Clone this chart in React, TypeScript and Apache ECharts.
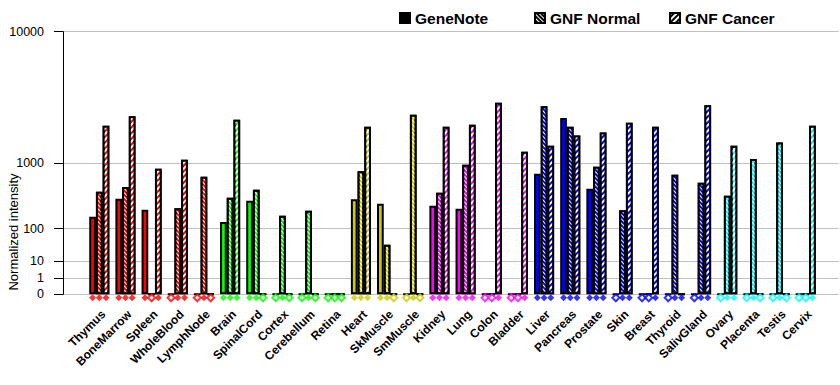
import React, { useEffect, useRef } from "react";
import * as echarts from "echarts";

const categories = [
  "Thymus", "BoneMarrow", "Spleen", "WholeBlood", "LymphNode",
  "Brain", "SpinalCord", "Cortex", "Cerebellum", "Retina",
  "Heart", "SkMuscle", "SmMuscle",
  "Kidney", "Lung", "Colon", "Bladder",
  "Liver", "Pancreas", "Prostate", "Skin", "Breast", "Thyroid", "SalivGland",
  "Ovary", "Placenta", "Testis", "Cervix",
];

const RED = "#ff0000";
const GREEN = "#00ff00";
const OLIVE = "#cccc00";
const MAGENTA = "#ff00ff";
const BLUE = "#0000ff";
const CYAN = "#00ffff";

const tissueColors = [
  RED, RED, RED, RED, RED,
  GREEN, GREEN, GREEN, GREEN, GREEN,
  OLIVE, OLIVE, OLIVE,
  MAGENTA, MAGENTA, MAGENTA, MAGENTA,
  BLUE, BLUE, BLUE, BLUE, BLUE, BLUE, BLUE,
  CYAN, CYAN, CYAN, CYAN,
];

const geneNote = [
  174, 348, 232, 0, 0,
  138, 325, 0, 0, 0,
  341, 292, 0,
  271, 242, 0, 0,
  754, 2661, 485, 0, 0, 0, 0,
  0, 0, 0, 0,
];
const gnfNormal = [
  441, 512, 0, 245, 693,
  360, 470, 182, 223, 0,
  805, 39, 2831,
  427, 957, 0, 0,
  3296, 2251, 910, 227, 0, 733, 583,
  386, 1105, 1616, 0,
];
const gnfCancer = [
  2296, 2750, 863, 1086, 0,
  2576, 0, 0, 0, 0,
  2251, 0, 0,
  2251, 2339, 3508, 1315,
  1510, 1876, 1997, 2432, 2251, 0, 3355,
  1510, 0, 0, 2296,
];

// presence calls (1 = filled diamond, 0 = hollow diamond)
const geneNoteCall = [1, 1, 1, 0, 0, 1, 1, 0, 0, 0, 1, 1, 0, 1, 1, 0, 0, 1, 1, 1, 0, 0, 0, 0, 0, 0, 0, 0];
const gnfNormalCall = [1, 1, 0, 1, 1, 1, 1, 1, 1, 0, 1, 1, 1, 1, 1, 0, 0, 1, 1, 1, 1, 0, 1, 1, 1, 1, 1, 0];
const gnfCancerCall = [1, 1, 1, 1, 0, 1, 0, 0, 0, 0, 1, 0, 0, 1, 1, 1, 1, 1, 1, 1, 1, 1, 1, 1, 1, 0, 0, 1];

const legendNames = ["GeneNote", "GNF Normal", "GNF Cancer"];
const yTickLabels = [0, 1, 10, 100, 1000, 10000];

// axis transform: every decade doubles the height
const tf = (v: number) => (v <= 0 ? 0 : Math.pow(v, Math.log10(2)));
const inv = (t: number) => (t <= 0 ? 0 : Math.round(Math.pow(10, Math.log2(t))));

const FONT = "'Liberation Sans', Arial, sans-serif";

export default function App() {
  const ref = useRef<HTMLDivElement>(null);
  useEffect(() => {
    document.body.style.margin = "0";
    if (!ref.current) return;
    const chart = echarts.init(ref.current, undefined, { renderer: "svg" });

    const tickVals = yTickLabels.map(tf);
    const yMax = tf(10000);

    const normalDecal = {
      symbol: "rect",
      symbolSize: 1,
      color: "#ffffff",
      dashArrayX: [1, 0],
      dashArrayY: [1, 2],
      rotation: Math.PI / 4,
    };
    const cancerDecal = {
      symbol: "rect",
      symbolSize: 1,
      color: "#ffffff",
      dashArrayX: [1, 0],
      dashArrayY: [2, 2],
      rotation: -Math.PI / 4,
    };

    const barSeries = (name: string, values: number[], decal: any) => ({
      name,
      type: "bar",
      xAxisIndex: 1,
      yAxisIndex: 1,
      barWidth: 6.7,
      barGap: "0%",
      itemStyle: { color: "#000", borderColor: "#000", borderWidth: 2, decal },
      data: values.map((v, i) => ({
        value: tf(v),
        itemStyle: { color: tissueColors[i], borderColor: "#000", borderWidth: 2, decal },
      })),
    });

    const callSeries = (name: string, calls: number[], dx: number) => ({
      name,
      type: "scatter",
      xAxisIndex: 1,
      yAxisIndex: 1,
      clip: false,
      symbolSize: 7,
      symbolOffset: [dx, 3.5],
      z: 5,
      data: calls.map((c, i) => ({
        value: [i, 0],
        symbol: c ? "diamond" : "emptyDiamond",
        itemStyle: { color: tissueColors[i] },
      })),
    });

    const option: any = {
      animation: false,
      backgroundColor: "#fff",
      textStyle: { fontFamily: FONT },
      legend: legendNames.map((n, k) => ({
        data: [n],
        left: 399 + k * 135,
        top: 10,
        icon: "rect",
        itemWidth: 10,
        itemHeight: 10,
        padding: 0,
        selectedMode: false,
        textStyle: { fontSize: 15.5, fontWeight: "bold", color: "#000", fontFamily: FONT },
      })),
      grid: [
        { left: 63, right: 1.3, top: 31.7, bottom: 90.7 },
        { left: 86.2, right: 21.2, top: 31.7, bottom: 90.7 },
        { left: 90.2, right: 17.2, top: 31.7, bottom: 90.7 },
      ],
      xAxis: [
        {
          gridIndex: 0,
          type: "category",
          data: categories,
          axisLine: { show: false },
          axisTick: { show: false },
          axisLabel: { show: false },
          splitLine: { show: false },
        },
        {
          gridIndex: 1,
          type: "category",
          data: categories,
          axisLine: { show: false },
          axisTick: { show: false },
          axisLabel: { show: false },
          splitLine: { show: false },
        },
        {
          gridIndex: 2,
          type: "category",
          data: categories,
          axisLine: { show: false },
          axisTick: { show: false },
          splitLine: { show: false },
          axisLabel: {
            interval: 0,
            rotate: 45,
            margin: 18,
            fontSize: 12,
            fontWeight: "bold",
            color: "#000",
            fontFamily: FONT,
          },
        },
      ],
      yAxis: [
        {
          gridIndex: 0,
          type: "value",
          min: 0,
          max: yMax,
          axisLine: { show: true, lineStyle: { color: "#000", width: 1 } },
          axisTick: { show: true, length: 9, customValues: tickVals, lineStyle: { color: "#000" } },
          axisLabel: {
            customValues: tickVals,
            margin: 19,
            fontSize: 12.5,
            color: "#000",
            fontFamily: FONT,
            formatter: (t: number) => String(inv(t)),
          },
          splitLine: { show: true, lineStyle: { color: "#c0c0c0", width: 1 } },
        },
        {
          gridIndex: 1,
          type: "value",
          min: 0,
          max: yMax,
          show: false,
          splitLine: { show: false },
        },
        {
          gridIndex: 2,
          type: "value",
          min: 0,
          max: yMax,
          show: false,
          splitLine: { show: false },
        },
      ],
      graphic: [
        {
          type: "text",
          x: 13,
          y: 232,
          rotation: Math.PI / 2,
          style: {
            text: "Normalized intensity",
            fontSize: 13,
            fill: "#000",
            fontFamily: FONT,
            textAlign: "center",
            textVerticalAlign: "middle",
          },
        },
      ],
      series: [
        barSeries("GeneNote", geneNote, undefined),
        barSeries("GNF Normal", gnfNormal, normalDecal),
        barSeries("GNF Cancer", gnfCancer, cancerDecal),
        callSeries("GeneNote call", geneNoteCall, -6.7),
        callSeries("GNF Normal call", gnfNormalCall, 0),
        callSeries("GNF Cancer call", gnfCancerCall, 6.7),
      ],
    };
    chart.setOption(option);
    return () => chart.dispose();
  }, []);
  return <div ref={ref} style={{ width: 840, height: 385 }} />;
}
